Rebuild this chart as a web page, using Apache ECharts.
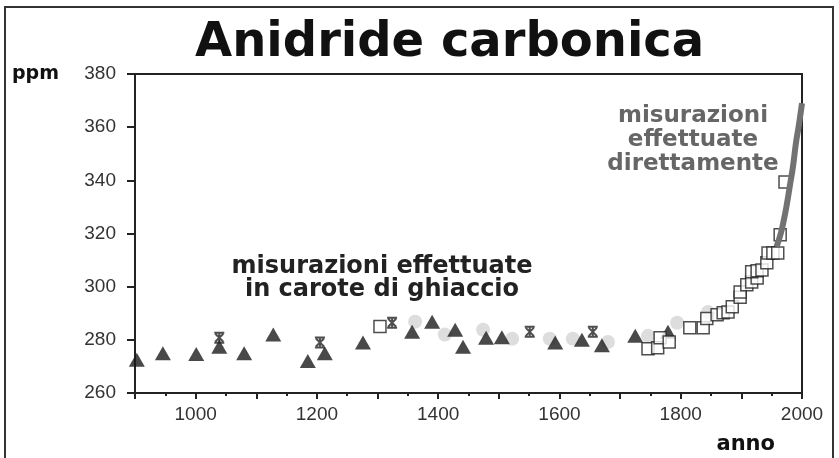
<!DOCTYPE html>
<html>
<head>
<meta charset="utf-8">
<script src="https://cdn.jsdelivr.net/npm/echarts@6/dist/echarts.min.js"></script>
<style>
  html, body { margin: 0; padding: 0; background: #fff; }
  #chart { width: 839px; height: 458px; }
</style>
</head>
<body>
<div id="chart"></div>
<script>
// carote di ghiaccio - triangoli
const triYears = [903, 946, 1001, 1039, 1080, 1128, 1185, 1213, 1276, 1357, 1390, 1428, 1441, 1479, 1505, 1593, 1637, 1670, 1725, 1779]
const triPpm   = [272.5, 275, 274.7, 277.4, 275, 282, 272, 275, 279, 283, 286.8, 283.8, 277.4, 280.8, 281, 279, 280, 278, 281.5, 283]
// asterischi
const astYears = [1039, 1205, 1324, 1551, 1655]
const astPpm   = [280.8, 279, 286.4, 283, 283]
// cerchi grigi
const cirYears = [1362, 1411, 1474, 1522, 1584, 1622, 1680, 1746, 1794, 1845]
const cirPpm   = [286.8, 282, 283.8, 280.4, 280.4, 280.4, 279.2, 281.5, 286.4, 290.5]
// quadrati vuoti
const sqYears = [1304, 1746, 1762, 1766, 1781, 1815, 1837, 1843, 1860, 1870, 1878, 1885, 1898, 1898, 1909, 1917, 1926, 1917, 1926, 1934, 1942, 1944, 1952, 1960, 1964, 1972]
const sqPpm   = [285, 276.6, 277, 280.8, 279.2, 284.5, 284.5, 288, 289.4, 290.2, 290.5, 292.4, 296, 298, 300.7, 301.8, 303.3, 305.6, 306, 306.3, 309, 312.7, 312.7, 312.7, 319.5, 339.4]
// misurazioni dirette
const mlYears = [1958, 1965, 1970, 1975, 1980, 1985, 1990, 1995, 2000]
const mlPpm   = [315, 320, 325, 331, 338, 345, 354, 361, 369]

const xLabels = [1000, 1200, 1400, 1600, 1800, 2000]
const yTicks = [260, 280, 300, 320, 340, 360, 380]

function pairs(xs, ys) {
  var out = []
  for (var i = 0; i < xs.length; i++) out.push([xs[i], ys[i]])
  return out
}

var chart = echarts.init(document.getElementById('chart'), null, { renderer: 'canvas' })

var option = {
  backgroundColor: '#fff',
  animation: false,
  title: {
    text: 'Anidride carbonica',
    left: 195,
    top: 20,
    padding: 0,
    textStyle: {
      fontFamily: 'DejaVu Sans',
      fontWeight: 'bold',
      fontSize: 48,
      color: '#111'
    }
  },
  grid: {
    show: true,
    left: 135,
    top: 74,
    right: 37,
    bottom: 65,
    borderColor: '#222',
    borderWidth: 2,
    backgroundColor: 'transparent'
  },
  xAxis: {
    type: 'value',
    min: 900,
    max: 2000,
    interval: 100,
    axisLine: { lineStyle: { color: '#222', width: 2 } },
    axisTick: { length: 6, lineStyle: { color: '#222', width: 2 } },
    minorTick: { show: true, splitNumber: 2, length: 3, lineStyle: { color: '#222', width: 2 } },
    splitLine: { show: false },
    axisLabel: {
      margin: 12,
      fontFamily: 'Liberation Sans',
      fontSize: 19,
      color: '#333',
      formatter: function (v) { return xLabels.indexOf(v) >= 0 ? String(v) : '' }
    }
  },
  yAxis: {
    type: 'value',
    min: yTicks[0],
    max: yTicks[yTicks.length - 1],
    interval: 20,
    axisLine: { show: true, lineStyle: { color: '#222', width: 2 } },
    axisTick: { show: true, length: 8, lineStyle: { color: '#222', width: 2 } },
    splitLine: { show: false },
    axisLabel: {
      margin: 19,
      fontFamily: 'Liberation Sans',
      fontSize: 19,
      color: '#333'
    }
  },
  series: [
    {
      name: 'cerchi',
      type: 'scatter',
      symbol: 'circle',
      symbolSize: 14,
      itemStyle: { color: '#d4d4d4' },
      data: pairs(cirYears, cirPpm),
      z: 2
    },
    {
      name: 'triangoli',
      type: 'scatter',
      symbol: 'triangle',
      symbolSize: [16, 14],
      itemStyle: { color: '#1c1c1c' },
      data: pairs(triYears, triPpm),
      z: 3
    },
    {
      name: 'quadrati',
      type: 'scatter',
      symbol: 'rect',
      symbolSize: 12,
      itemStyle: { color: '#fff', borderColor: '#222', borderWidth: 1.5 },
      data: pairs(sqYears, sqPpm),
      z: 4
    },
    {
      name: 'asterischi',
      type: 'scatter',
      symbol: 'path://M0,0 L10,0 M0,10 L10,10 M1,1 L9,9 M9,1 L1,9 M5,0 L5,10',
      symbolSize: 10,
      itemStyle: { color: 'none', borderColor: '#222', borderWidth: 2 },
      data: pairs(astYears, astPpm),
      z: 5
    },
    {
      name: 'dirette',
      type: 'line',
      showSymbol: false,
      smooth: true,
      lineStyle: { color: '#727272', width: 6 },
      data: pairs(mlYears, mlPpm),
      z: 6
    }
  ],
  graphic: [
    {
      type: 'rect',
      shape: { x: 5, y: 7, width: 828, height: 470 },
      style: { fill: 'none', stroke: '#333', lineWidth: 2 },
      silent: true
    },
    {
      type: 'text',
      x: 12, y: 74,
      style: { text: 'ppm', font: 'bold 19px "DejaVu Sans"', fill: '#111', align: 'left', verticalAlign: 'middle' }
    },
    {
      type: 'text',
      x: 775, y: 445,
      style: { text: 'anno', font: 'bold 21px "DejaVu Sans"', fill: '#111', align: 'right', verticalAlign: 'middle' }
    },
    {
      type: 'text',
      x: 382, y: 278,
      style: {
        text: 'misurazioni effettuate\nin carote di ghiaccio',
        font: 'bold 24px "DejaVu Sans"', lineHeight: 23,
        fill: '#222', align: 'center', verticalAlign: 'middle'
      }
    },
    {
      type: 'text',
      x: 693, y: 140,
      style: {
        text: 'misurazioni\neffettuate\ndirettamente',
        font: 'bold 23px "DejaVu Sans"', lineHeight: 24,
        fill: '#666', align: 'center', verticalAlign: 'middle'
      }
    }
  ]
}

chart.setOption(option)
</script>
</body>
</html>
